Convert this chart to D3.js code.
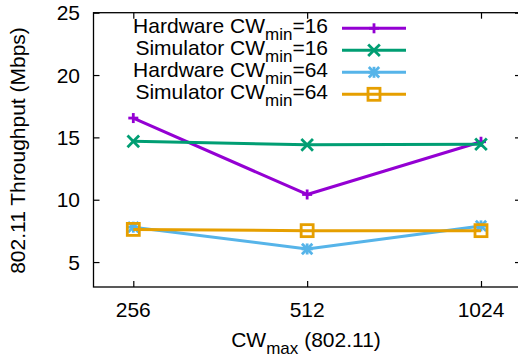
<!DOCTYPE html>
<html>
<head>
<meta charset="utf-8">
<script src="https://cdn.jsdelivr.net/npm/d3@7"></script>
<style>
  html, body { margin: 0; padding: 0; background: #fff; }
  svg { display: block; font-family: "Liberation Sans", Arial, sans-serif; }
</style>
</head>
<body>
<svg id="chart" width="518" height="358"></svg>
<script>
// CW_max settings along the x axis
const categories = ["256", "512", "1024"];
// Throughput (Mbps) per series
const hw16 = [16.55, 10.42, 14.65];
const sim16 = [14.68, 14.4, 14.45];
const hw64 = [7.8, 6.05, 7.9];
const sim64 = [7.62, 7.52, 7.52];
const yTicks = [5, 10, 15, 20, 25];

const series = [
  { name: "Hardware CW", sub: "min", tail: "=16", values: hw16, color: "#9400d3", marker: "plus" },
  { name: "Simulator CW", sub: "min", tail: "=16", values: sim16, color: "#009e73", marker: "cross" },
  { name: "Hardware CW", sub: "min", tail: "=64", values: hw64, color: "#56b4e9", marker: "star" },
  { name: "Simulator CW", sub: "min", tail: "=64", values: sim64, color: "#e69f00", marker: "square" }
];

const FONT = 21, SUB = 17;
const svg = d3.select("#chart");
const m = { left: 93.5, top: 12.7, right: 521, bottom: 287 };

const x = d3.scalePoint().domain(categories).range([133.3, 481]);
const y = d3.scaleLinear().domain([3, 25]).range([m.bottom, m.top]);

// frame
svg.append("rect")
  .attr("x", m.left).attr("y", m.top)
  .attr("width", m.right - m.left).attr("height", m.bottom - m.top)
  .attr("fill", "none").attr("stroke", "#000").attr("stroke-width", 1.3);

const tickLen = 6;
function styleTicks(g) {
  g.select(".domain").remove();
  g.selectAll("line").attr("stroke", "#000").attr("stroke-width", 1.2);
}
// inward ticks on all four sides
svg.append("g").attr("transform", `translate(${m.left},0)`)
  .call(d3.axisLeft(y).tickValues(yTicks).tickSize(-tickLen).tickFormat("")).call(styleTicks);
svg.append("g").attr("transform", `translate(${m.right},0)`)
  .call(d3.axisRight(y).tickValues(yTicks).tickSize(-tickLen).tickFormat("")).call(styleTicks);
svg.append("g").attr("transform", `translate(0,${m.bottom})`)
  .call(d3.axisBottom(x).tickSize(-tickLen).tickFormat("")).call(styleTicks);
svg.append("g").attr("transform", `translate(0,${m.top})`)
  .call(d3.axisTop(x).tickSize(-tickLen).tickFormat("")).call(styleTicks);

// tick labels
svg.append("g").selectAll("text").data(yTicks).join("text")
  .attr("x", 80).attr("y", d => y(d)).attr("dy", "0.36em")
  .attr("text-anchor", "end").attr("font-size", FONT).text(d => d);
svg.append("g").selectAll("text").data(categories).join("text")
  .attr("x", d => x(d)).attr("y", 316.5)
  .attr("text-anchor", "middle").attr("font-size", FONT).text(d => d);

// axis titles
svg.append("text")
  .attr("transform", `translate(25,150.5) rotate(-90)`)
  .attr("text-anchor", "middle").attr("font-size", FONT)
  .text("802.11 Throughput (Mbps)");

const xt = svg.append("text")
  .attr("x", 306).attr("y", 346.5).attr("text-anchor", "middle").attr("font-size", FONT);
xt.append("tspan").text("CW");
xt.append("tspan").attr("font-size", SUB).attr("dy", 7).text("max");
xt.append("tspan").attr("dy", -7).text(" (802.11)");

// point symbols
function drawMarker(g, kind, cx, cy, color) {
  const mk = g.append("g").attr("transform", `translate(${cx},${cy})`)
    .attr("stroke", color).attr("stroke-width", 2.8).attr("fill", "none");
  if (kind === "plus" || kind === "star") {
    const s = kind === "star" ? 5.5 : 5;
    mk.append("line").attr("x1", -s).attr("x2", s).attr("y1", 0).attr("y2", 0);
    mk.append("line").attr("x1", 0).attr("x2", 0).attr("y1", -s).attr("y2", s);
  }
  if (kind === "cross" || kind === "star") {
    const d = kind === "star" ? 5.2 : 5.8;
    mk.append("line").attr("x1", -d).attr("x2", d).attr("y1", -d).attr("y2", d);
    mk.append("line").attr("x1", -d).attr("x2", d).attr("y1", d).attr("y2", -d);
  }
  if (kind === "square") {
    const s = 6;
    mk.append("rect").attr("x", -s).attr("y", -s).attr("width", 2 * s).attr("height", 2 * s);
  }
}

const line = d3.line().x((d, i) => x(categories[i])).y(d => y(d));

series.forEach(s => {
  const g = svg.append("g");
  g.append("path").datum(s.values)
    .attr("d", line).attr("fill", "none")
    .attr("stroke", s.color).attr("stroke-width", 3).attr("stroke-linejoin", "round");
  s.values.forEach((v, i) => drawMarker(g, s.marker, x(categories[i]), y(v), s.color));
});

// legend
const legY0 = 28.3, legDy = 22;
series.forEach((s, i) => {
  const ly = legY0 + i * legDy;
  const t = svg.append("text")
    .attr("x", 328).attr("y", ly + 5).attr("text-anchor", "end").attr("font-size", FONT);
  t.append("tspan").text(s.name);
  t.append("tspan").attr("font-size", SUB).attr("dy", 7).text(s.sub);
  t.append("tspan").attr("dy", -7).text(s.tail);
  const g = svg.append("g");
  g.append("line").attr("x1", 342).attr("x2", 406).attr("y1", ly).attr("y2", ly)
    .attr("stroke", s.color).attr("stroke-width", 3);
  drawMarker(g, s.marker, 374, ly, s.color);
});
</script>
</body>
</html>
